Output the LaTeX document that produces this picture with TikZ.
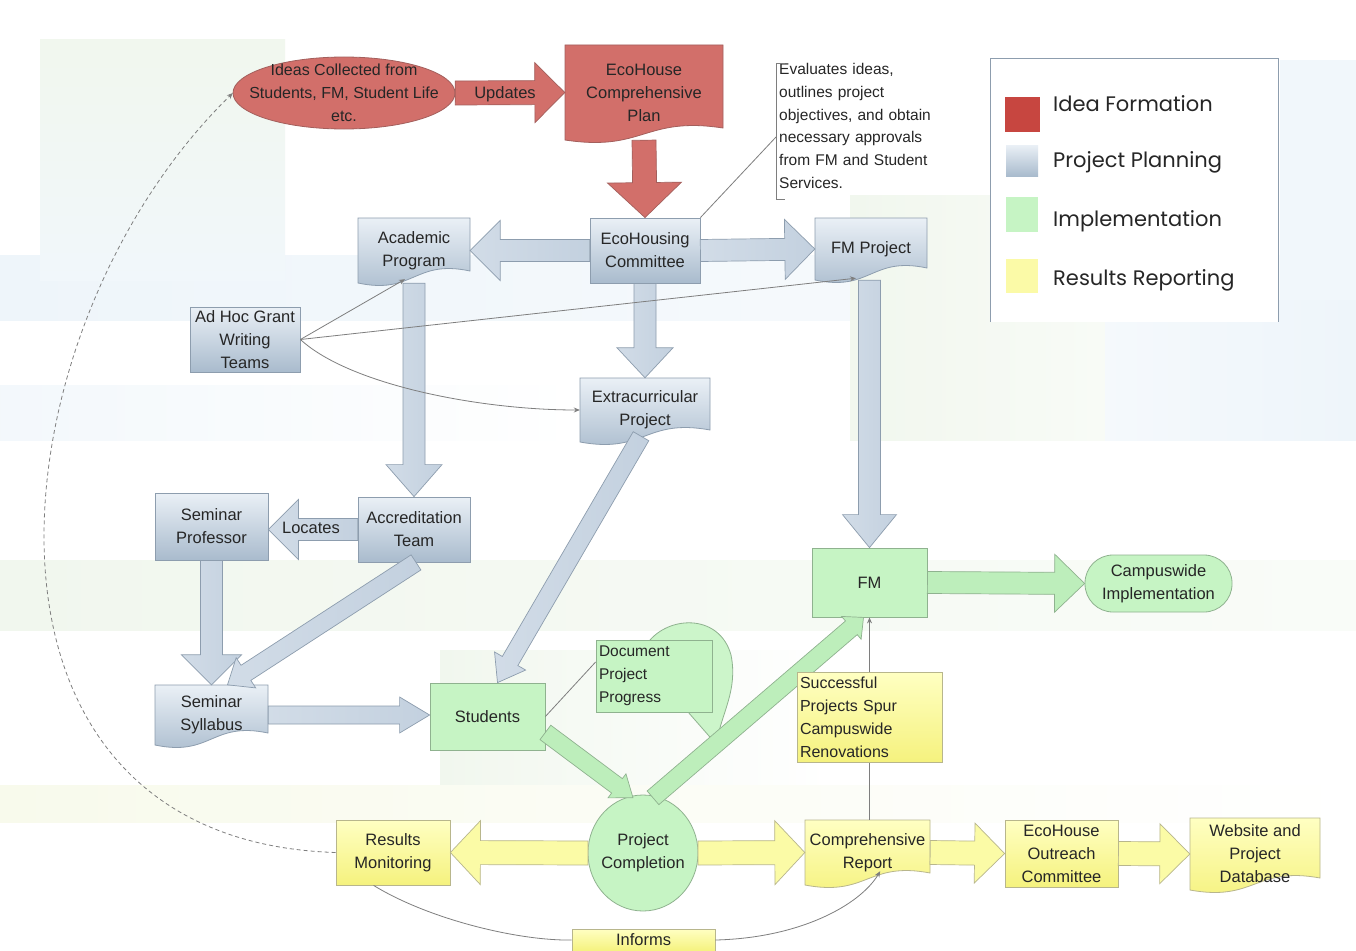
\documentclass[tikz,border=0pt]{standalone}
\usepackage{fontspec}
\setmainfont{Liberation Sans}
\newfontfamily\legfont{Poppins}
\usetikzlibrary{calc,shapes.geometric,arrows.meta}
\definecolor{redF}{HTML}{D26F6A}
\definecolor{redL}{HTML}{A35F5C}
\definecolor{redLeg}{HTML}{C74640}
\definecolor{blueT}{HTML}{EAF0F6}
\definecolor{blueB}{HTML}{A9BBCD}
\definecolor{blueL}{HTML}{8D9DAE}
\definecolor{arrB}{HTML}{C6D3E1}
\definecolor{greenF}{HTML}{C6F4C4}
\definecolor{greenL}{HTML}{8FB28F}
\definecolor{arrG}{HTML}{BDEEBB}
\definecolor{yelT}{HTML}{FFFFC2}
\definecolor{yelB}{HTML}{F5F27E}
\definecolor{yelL}{HTML}{B8B68C}
\definecolor{arrY}{HTML}{FBFBA6}
\definecolor{txtC}{HTML}{262626}
\definecolor{lineC}{HTML}{7E7E7E}
\definecolor{bgG}{HTML}{F1F7EE}
\definecolor{bgB}{HTML}{EEF5FA}
\definecolor{bgY}{HTML}{F8FAEC}

% block arrow: [style]{from}{to}{half shaft}{half head}{head length}
\newcommand\blockarrow[6][]{%
  \coordinate (bah) at ($(#3)!#6!(#2)$);
  \path[#1] ($(#2)!#4!90:(#3)$) -- ($(bah)!#4!90:(#3)$) -- ($(bah)!#5!90:(#3)$) -- (#3)
    -- ($(bah)!#5!-90:(#3)$) -- ($(bah)!#4!-90:(#3)$) -- ($(#2)!#4!-90:(#3)$) -- cycle;}

% document shape: [style]{name}{x1}{y1}{x2}{y2}{text}
\newcommand\docnode[7][]{%
  \path[#1] (#3,#4) -- (#5,#4) -- (#5,{#6-12}) .. controls ({(#3+#5)/2},{#6-24}) and ({(#3+#5)/2},{#6+12}) .. (#3,#6) -- cycle;
  \node[txt, minimum width={(#5-#3)*1pt}, minimum height={(#6-#4)*1pt}] (#2) at ({(#3+#5)/2},{(#4+#6)/2}) {#7};}

% box: [style]{name}{x1}{y1}{x2}{y2}{text}
\newcommand\boxnode[7][]{%
  \node[txt, #1, minimum width={(#5-#3)*1pt}, minimum height={(#6-#4)*1pt}] (#2) at ({(#3+#5)/2},{(#4+#6)/2}) {#7};}

\begin{document}
\begin{tikzpicture}[x=1pt,y=-1pt,
  txt/.style={font=\fontsize{16.5}{23}\selectfont, align=center, text=txtC, inner sep=0pt},
  blueS/.style={top color=blueT, bottom color=blueB, draw=blueL, line width=0.8pt},
  redS/.style={fill=redF, draw=redL, line width=0.8pt},
  greenS/.style={fill=greenF, draw=greenL, line width=0.8pt},
  yelS/.style={top color=yelT, bottom color=yelB, draw=yelL, line width=0.8pt},
  arrBl/.style={left color=arrB!80!white, right color=arrB!90!blueB, draw=blueL, line width=0.7pt},
  arrRd/.style={fill=redF, draw=redL, line width=0.7pt},
  arrGr/.style={fill=arrG, draw=greenL, line width=0.7pt},
  arrYl/.style={fill=arrY, draw=yelL, line width=0.7pt},
  conn/.style={draw=lineC, line width=0.8pt},
  tipS/.style={-{Stealth[length=6pt,width=5pt]}},
  legtxt/.style={font=\legfont\fontsize{21}{24}\selectfont, text=txtC, anchor=west, inner sep=0pt}]
\useasboundingbox (0,0) rectangle (1356,950);
% background washes
\fill[white] (0,0) rectangle (1356,950);
\shade[left color=bgB, right color=bgB!30] (0,255) rectangle (1356,320);
\shade[top color=bgG, bottom color=bgB!80] (40,40) rectangle (285,280);
\shade[left color=bgB!70, right color=white] (0,385) rectangle (580,440);
\shade[left color=bgG, right color=bgG!50] (850,195) rectangle (1105,440);
\shade[left color=bgB!60, right color=bgB] (1105,300) rectangle (1356,440);
\fill[bgB!80] (1280,60) rectangle (1356,300);
\shade[left color=bgG, right color=bgG!40] (0,560) rectangle (1356,630);
\shade[left color=bgG, right color=white] (440,650) rectangle (830,800);
\shade[left color=bgY, right color=white] (0,785) rectangle (1356,822);

% ---------- nodes ----------
\path[redS] (344,93) ellipse [x radius=111, y radius=36];
\node[txt, minimum width=222pt, minimum height=72pt, font=\fontsize{16}{23}\selectfont] (ideas) at (344,93) {Ideas Collected from\\Students, FM, Student Life\\etc.};
\docnode[redS]{plan}{565}{45}{723}{140}{EcoHouse\\Comprehensive\\Plan}
\node[txt, align=left, anchor=north west, text width=165pt, font=\fontsize{15.5}{22.8}\selectfont] (evalnote) at (779,63) {Evaluates ideas,\\outlines project\\objectives, and obtain\\necessary approvals\\from FM and Student\\Services.};
\draw[conn] (785,63) -- (776,63) -- (776,199) -- (785,199);
\coordinate (evalpt) at (776,137);

\boxnode[blueS]{comm}{590}{218}{700}{283}{EcoHousing\\Committee}
\docnode[blueS]{acad}{358}{218}{470}{283}{Academic\\Program}
\docnode[blueS]{fmproj}{815}{218}{927}{280}{FM Project}
\docnode[blueS]{extra}{580}{378}{710}{442}{Extracurricular\\Project}
\boxnode[blueS]{adhoc}{190}{307}{300}{372}{Ad Hoc Grant\\Writing\\Teams}
\boxnode[blueS]{accr}{358}{497}{470}{562}{Accreditation\\Team}
\boxnode[blueS]{semprof}{155}{493}{268}{560}{Seminar\\Professor}
\docnode[blueS]{syll}{155}{685}{268}{745}{Seminar\\Syllabus}

\boxnode[greenS]{students}{430}{683}{545}{750}{Students}
\boxnode[greenS]{fm}{812}{548}{927}{617}{FM}
\node[txt, greenS, rounded corners=28pt, minimum width=147pt, minimum height=57pt] (campus) at (1158.5,583.5) {Campuswide\\Implementation};
\path[greenS] (643,853) ellipse [x radius=55, y radius=58];
\node[txt, ellipse, minimum width=110pt, minimum height=116pt, inner sep=-12pt] (complete) at (643,853) {Project\\Completion};

\boxnode[yelS]{results}{336}{820}{450}{885}{Results\\Monitoring}
\docnode[yelS]{report}{805}{820}{930}{885}{Comprehensive\\Report}
\boxnode[yelS]{outreach}{1005}{820}{1118}{887}{EcoHouse\\Outreach\\Committee}
\docnode[yelS]{website}{1190}{818}{1320}{890}{Website and\\Project\\Database}
\boxnode[yelS]{informs}{572}{929}{715}{951}{Informs}

% ---------- block arrows ----------
\blockarrow[arrRd]{ideas.east}{plan.west}{12pt}{30pt}{30pt}
\node[txt] (upd) at (505,94) {Updates};
\blockarrow[arrRd]{plan.south}{comm.north}{12pt}{37pt}{35pt}

\blockarrow[arrBl]{comm.west}{acad.east}{11pt}{30pt}{30pt}
\blockarrow[arrBl]{comm.east}{fmproj.west}{11pt}{30pt}{30pt}
\blockarrow[arrBl]{comm.south}{extra.north}{11pt}{28pt}{30pt}
\blockarrow[arrBl]{acad.south}{accr.north}{11pt}{28pt}{32pt}
\coordinate (semprofE) at (semprof.east |- accr.west);
\blockarrow[arrBl]{accr.west}{semprofE}{11pt}{30pt}{30pt}
\node[txt] (loc) at (311,528) {Locates};
\blockarrow[arrBl]{semprof.south}{syll.north}{11pt}{30pt}{30pt}
\coordinate (accrS) at ($(accr.south)+(2,0)$);
\coordinate (syllN) at ($(syll.north)+(16,0)$);
\blockarrow[arrBl]{accrS}{syllN}{9pt}{18pt}{22pt}
\coordinate (extraS) at ($(extra.south)+(-4,-6)$);
\coordinate (studN) at ($(students.north)+(10,0)$);
\blockarrow[arrBl]{extraS}{studN}{9pt}{18pt}{25pt}
\coordinate (studW) at (students.west |- syll.east);
\blockarrow[arrBl]{syll.east}{studW}{9pt}{18pt}{30pt}
\coordinate (fmN) at (fm.north);
\coordinate (fmprojS) at (fm.north |- fmproj.south);
\blockarrow[arrBl]{fmprojS}{fmN}{11pt}{27pt}{33pt}

\blockarrow[arrGr]{fm.east}{campus.west}{11pt}{29pt}{30pt}
% callout balloon for progress
\path[greenS, fill=greenF!90] (650,640) .. controls (672,615) and (720,615) .. (731,655)
  .. controls (738,690) and (722,712) .. (716,744) -- (688,712) -- cycle;
\node[txt, greenS, minimum width=116pt, minimum height=72pt, text width=110pt, inner sep=3pt, align=left, font=\fontsize{15.5}{23}\selectfont] (progress) at (654,676) {Document\\Project\\Progress};
\coordinate (studSE) at ($(students.south east)+(0,-18)$);
\coordinate (compN1) at ($(complete.north)+(-10,3)$);
\coordinate (compN2) at ($(complete.north)+(10,3)$);
\coordinate (fmS) at ($(fm.south)+(-6,0)$);
\blockarrow[arrGr]{studSE}{compN1}{9pt}{15pt}{20pt}
\blockarrow[arrGr]{compN2}{fmS}{9pt}{15pt}{16pt}

\coordinate (compW) at (588,853);
\coordinate (compE) at (698,853);
\blockarrow[arrYl]{compW}{results.east}{12pt}{32pt}{30pt}
\blockarrow[arrYl]{compE}{report.west}{12pt}{32pt}{30pt}
\blockarrow[arrYl]{report.east}{outreach.west}{12pt}{30pt}{30pt}
\blockarrow[arrYl]{outreach.east}{website.west}{12pt}{30pt}{30pt}

% ---------- thin connectors ----------
\draw[conn] (comm.north east) -- (evalpt);
\draw[conn, tipS] (adhoc.east) -- ($(acad.south)+(-9,-4)$);
\draw[conn, tipS] (adhoc.east) -- ($(fmproj.south)+(-15,-2)$);
\draw[conn, tipS] (adhoc.east) .. controls (350,385) and (480,410) .. (extra.west);
\draw[conn] (students.east) -- ($(progress.west)+(0,-14)$);
\draw[conn, tipS] (fm.south |- report.north) -- (fm.south);
\draw[conn] ($(results.south west)+(38,0)$) .. controls (430,920) and (520,941) .. (informs.west);
\draw[conn, tipS] (informs.east) .. controls (800,938) and (860,905) .. ($(report.south east)+(-50,-14)$);
\draw[conn, dashed, dash pattern=on 4pt off 3pt, tipS] (results.west) .. controls (-60,840) and (-10,330) .. (ideas.west);

% success box on top of the FM line
\node[txt, yelS, minimum width=145pt, minimum height=90pt, text width=139pt, inner sep=3pt, align=left, font=\fontsize{16}{23}\selectfont] (success) at (869.5,717) {Successful\\Projects Spur\\Campuswide\\Renovations};

% ---------- legend ----------
\fill[white] (990,58) rectangle (1278,322);
\draw[draw=blueL, line width=0.8pt] (990,322) -- (990,58) -- (1278,58) -- (1278,322);
\fill[redLeg] (1005,97) rectangle (1040,132);
\shade[top color=blueT, bottom color=blueB] (1006,145) rectangle (1038,176);
\fill[greenF] (1006,197) rectangle (1038,232);
\fill[yelT!60!yelB] (1006,259) rectangle (1038,293);
\node[legtxt] (leg1) at (1053,104) {Idea Formation};
\node[legtxt] (leg2) at (1053,162) {Project Planning};
\node[legtxt] (leg3) at (1053,221) {Implementation};
\node[legtxt] (leg4) at (1053,280) {Results Reporting};
\end{tikzpicture}
\end{document}
